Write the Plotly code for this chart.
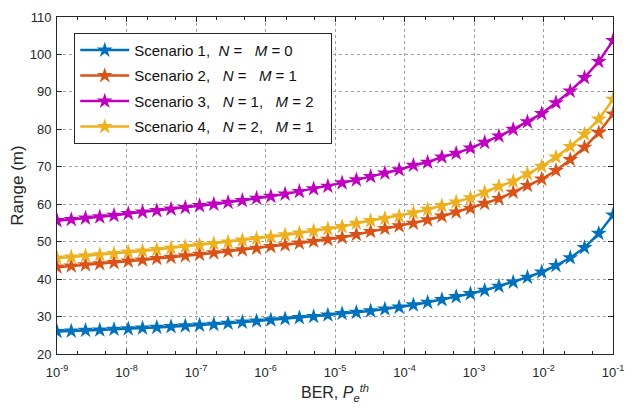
import numpy as np
import plotly.graph_objects as go

# BER threshold values: 40 log-spaced points 1e-9 .. 1e-1
ber = np.logspace(-9, -1, 40)

scenario1 = [26.0, 26.1, 26.3, 26.4, 26.6, 26.7, 26.9, 27.1, 27.3, 27.5,
             27.7, 27.9, 28.2, 28.5, 28.8, 29.1, 29.4, 29.7, 30.0, 30.4,
             30.8, 31.1, 31.5, 32.0, 32.5, 33.1, 33.8, 34.5, 35.3, 36.1,
             37.0, 38.1, 39.2, 40.5, 41.9, 43.6, 45.7, 48.4, 52.2, 57.1]
scenario2 = [43.2, 43.5, 43.8, 44.1, 44.4, 44.8, 45.1, 45.5, 45.8, 46.2,
             46.6, 47.0, 47.4, 47.8, 48.2, 48.7, 49.1, 49.6, 50.1, 50.6,
             51.1, 51.9, 52.7, 53.5, 54.2, 54.9, 55.8, 56.8, 57.9, 58.9,
             60.2, 61.5, 63.2, 65.0, 66.7, 69.0, 71.9, 75.2, 79.1, 84.1]
scenario3 = [55.6, 55.9, 56.3, 56.6, 57.0, 57.5, 57.9, 58.3, 58.7, 59.1,
             59.6, 60.0, 60.5, 61.0, 61.6, 62.1, 62.7, 63.4, 64.1, 64.8,
             65.7, 66.5, 67.4, 68.3, 69.2, 70.4, 71.2, 72.6, 73.6, 75.0,
             76.5, 78.2, 80.0, 82.0, 84.2, 87.1, 90.2, 93.8, 98.1, 103.7]
scenario4 = [45.6, 45.9, 46.2, 46.5, 46.8, 47.2, 47.5, 47.9, 48.3, 48.7,
             49.1, 49.5, 49.9, 50.4, 50.8, 51.3, 51.8, 52.3, 52.9, 53.4,
             54.0, 54.9, 55.6, 56.2, 56.8, 57.7, 58.6, 59.6, 60.6, 61.7,
             63.2, 64.8, 66.1, 68.1, 70.1, 72.6, 75.4, 78.7, 82.7, 88.0]

names = ["Scenario 1,  <i>N</i> =   <i>M</i> = 0",
         "Scenario 2,   <i>N</i> =   <i>M</i> = 1",
         "Scenario 3,   <i>N</i> = 1,   <i>M</i> = 2",
         "Scenario 4,   <i>N</i> = 2,   <i>M</i> = 1"]
colors = ["#0072BD", "#D95319", "#C000C0", "#EDB120"]
series = [scenario1, scenario2, scenario3, scenario4]

xtick_vals = [10.0 ** k for k in range(-9, 0)]
xtick_text = ["10<sup>%d</sup>" % k for k in range(-9, 0)]
ytick_vals = list(range(20, 111, 10))

FONT = "Liberation Sans, Arial"

fig = go.Figure()
for i, (nm, col, ys) in enumerate(zip(names, colors, series)):
    fig.add_trace(go.Scatter(
        x=ber, y=ys, name=nm + "\u00a0\u00a0\u00a0", mode="lines+markers",
        legendgroup=str(i),
        line=dict(color=col, width=2.5),
        marker=dict(symbol="star", size=12, color=col, line=dict(width=0)),
    ))

axis_common = dict(
    showline=True, linecolor="#262626", linewidth=1, mirror="ticks",
    ticks="inside", ticklen=5, tickcolor="#262626",
    showgrid=True, gridcolor="#a0a0a0", griddash="dot", gridwidth=1,
    zeroline=False, automargin=False,
    tickfont=dict(family=FONT, size=13, color="#262626"),
)

fig.update_xaxes(
    type="log", range=[-9, -1],
    tickvals=xtick_vals, ticktext=xtick_text,
    ticklabelstandoff=6,
    minor=dict(ticks="inside", ticklen=3, tickcolor="#262626", showgrid=False),
    title=dict(text="BER, <i>P</i><sub><i>e</i></sub><sup><i>th</i></sup>",
               font=dict(family=FONT, size=16, color="#262626"),
               standoff=8),
    **axis_common,
)
fig.update_yaxes(
    range=[20, 110], tickvals=ytick_vals,
    ticklabelstandoff=2,
    title=dict(text="Range (m)",
               font=dict(family=FONT, size=17, color="#262626"),
               standoff=5),
    **axis_common,
)

# the page body adds an 8px offset; margins compensate for it
fig.update_layout(
    width=637, height=413,
    margin=dict(l=49, r=32, t=9, b=67),
    paper_bgcolor="white", plot_bgcolor="white",
    font=dict(family=FONT, color="#262626"),
    legend=dict(
        x=0.031, y=0.953, xanchor="left", yanchor="top",
        bgcolor="white", bordercolor="#262626", borderwidth=1,
        font=dict(family=FONT, size=15, color="#111111"),
        tracegroupgap=3, itemwidth=49,
    ),
    showlegend=True,
)

fig.write_html("out.html")
